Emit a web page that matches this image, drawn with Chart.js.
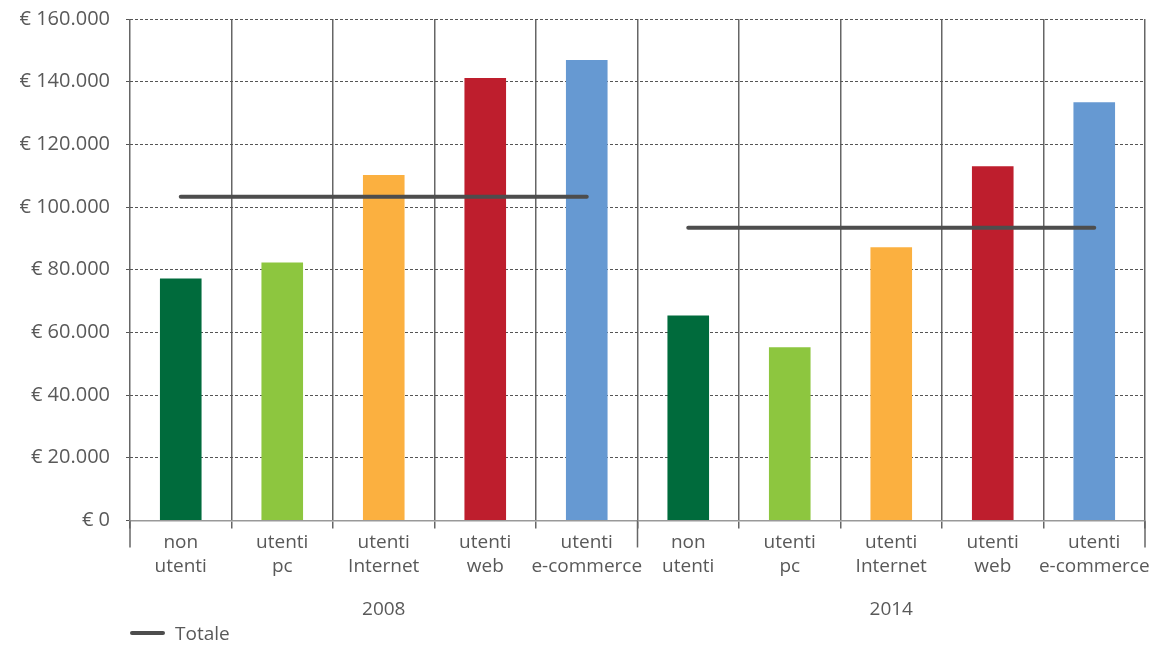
<!DOCTYPE html>
<html lang="it">
<head>
<meta charset="utf-8">
<title>Spesa media per tipologia di utente</title>
<script src="https://cdn.jsdelivr.net/npm/chart.js@4/dist/chart.umd.min.js"></script>
<style>
  body { margin: 0; background: #fff; font-family: "Open Sans", sans-serif; }
  .wrap { position: relative; width: 1153px; height: 645px; }
  .legend {
    position: absolute; left: 130px; top: 621px;
    display: flex; align-items: center;
    font-size: 19px; color: #595959; line-height: 24px;
  }
  .legend .swatch { width: 35px; height: 4px; background: #4d4d4d; border-radius: 2px; margin-right: 10px; }
</style>
</head>
<body>
<div class="wrap">
  <canvas id="chart" width="1153" height="645"></canvas>
  <div class="legend"><span class="swatch"></span><span>Totale</span></div>
</div>
<script>
const categories = [
  ["non", "utenti"], ["utenti", "pc"], ["utenti", "Internet"], ["utenti", "web"], ["utenti", "e-commerce"],
  ["non", "utenti"], ["utenti", "pc"], ["utenti", "Internet"], ["utenti", "web"], ["utenti", "e-commerce"],
];
const years = ["2008", "2014"];
const spesa = [77200, 82300, 110200, 141200, 146900, 65400, 55300, 87200, 113000, 133400];
const totale = [103300, 103300, 103300, 103300, 103300, 93400, 93400, 93400, 93400, 93400];
const barColors = ["#006b3c", "#8dc63f", "#fbb040", "#be1e2d", "#6699d2"];

const TEXT = "#595959";
const FONT = { family: "'Open Sans', sans-serif", size: 19, lineHeight: 1.22 };

function euro(v) {
  return "€ " + String(v).replace(/\B(?=(\d{3})+(?!\d))/g, ".");
}

// Tacche lunghe sotto l'asse tra i due anni (inizio, metà, fine).
const groupTicksPlugin = {
  id: "groupTicks",
  afterDraw(chart) {
    const { ctx, chartArea: { bottom }, scales: { x } } = chart;
    const half = (x.getPixelForValue(1) - x.getPixelForValue(0)) / 2;
    ctx.save();
    ctx.strokeStyle = "#666";
    ctx.lineWidth = 1.5;
    [0, 5, 10].forEach((i) => {
      const px = i < 10 ? x.getPixelForValue(i) - half : x.getPixelForValue(9) + half;
      ctx.beginPath();
      ctx.moveTo(px, bottom);
      ctx.lineTo(px, bottom + 27);
      ctx.stroke();
    });
    ctx.restore();
  },
};

new Chart(document.getElementById("chart"), {
  data: {
    labels: categories,
    datasets: [
      {
        type: "line",
        label: "Totale",
        data: totale,
        order: 1,
        borderColor: "#4d4d4d",
        backgroundColor: "#4d4d4d",
        borderWidth: 4,
        borderCapStyle: "round",
        pointRadius: 0,
        segment: {
          borderColor: (c) => (c.p0DataIndex === 4 ? "transparent" : "#4d4d4d"),
        },
      },
      {
        type: "bar",
        label: "Spesa",
        data: spesa,
        order: 2,
        backgroundColor: spesa.map((_, i) => barColors[i % 5]),
        barPercentage: 0.41,
        categoryPercentage: 1,
      },
    ],
  },
  options: {
    responsive: false,
    animation: false,
    layout: { padding: { top: 19, right: 8, bottom: 7, left: 0 } },
    plugins: { legend: { display: false }, tooltip: { enabled: false } },
    scales: {
      x: {
        offset: true,
        grid: { offset: true, color: "#666", lineWidth: 1.5, tickLength: 8 },
        border: { color: "#999", width: 1.5 },
        ticks: { color: TEXT, font: FONT, padding: 3, maxRotation: 0, autoSkip: false },
      },
      x2: {
        type: "category",
        labels: years,
        position: "bottom",
        offset: true,
        grid: { display: false, drawTicks: false },
        border: { display: false },
        ticks: { color: TEXT, font: FONT, padding: 17 },
      },
      y: {
        min: 0,
        max: 160000,
        afterFit: (s) => { s.width = 130; s.paddingTop = 0; s.paddingBottom = 0; },
        grid: { color: "#555", lineWidth: 1, tickLength: 4, tickBorderDash: [3, 2] },
        border: { display: false, dash: [3, 2] },
        ticks: { stepSize: 20000, color: TEXT, font: { ...FONT, size: 20 }, padding: 16, callback: (v) => euro(v) },
      },
    },
  },
  plugins: [groupTicksPlugin],
});
</script>
</body>
</html>
